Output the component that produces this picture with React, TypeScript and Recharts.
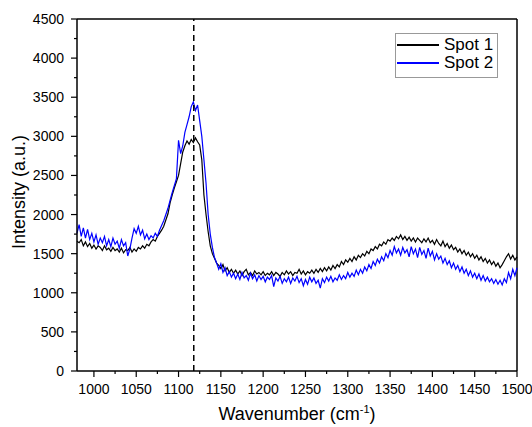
import React from 'react';
import { LineChart, Line, XAxis, YAxis, ReferenceLine } from 'recharts';

const wavenumbers = [
  980, 982.5, 985, 987.5, 990, 992.5, 995, 997.5, 1000, 1002.5, 1005, 1007.5,
  1010, 1012.5, 1015, 1017.5, 1020, 1022.5, 1025, 1027.5, 1030, 1032.5, 1035, 1037.5,
  1040, 1042.5, 1045, 1047.5, 1050, 1052.5, 1055, 1057.5, 1060, 1062.5, 1065, 1067.5,
  1070, 1072.5, 1075, 1077.5, 1080, 1082.5, 1085, 1087.5, 1090, 1092.5, 1095, 1097.5,
  1100, 1102.5, 1105, 1107.5, 1110, 1112.5, 1115, 1117.5, 1120, 1122.5, 1125, 1127.5,
  1130, 1132.5, 1135, 1137.5, 1140, 1142.5, 1145, 1147.5, 1150, 1152.5, 1155, 1157.5,
  1160, 1162.5, 1165, 1167.5, 1170, 1172.5, 1175, 1177.5, 1180, 1182.5, 1185, 1187.5,
  1190, 1192.5, 1195, 1197.5, 1200, 1202.5, 1205, 1207.5, 1210, 1212.5, 1215, 1217.5,
  1220, 1222.5, 1225, 1227.5, 1230, 1232.5, 1235, 1237.5, 1240, 1242.5, 1245, 1247.5,
  1250, 1252.5, 1255, 1257.5, 1260, 1262.5, 1265, 1267.5, 1270, 1272.5, 1275, 1277.5,
  1280, 1282.5, 1285, 1287.5, 1290, 1292.5, 1295, 1297.5, 1300, 1302.5, 1305, 1307.5,
  1310, 1312.5, 1315, 1317.5, 1320, 1322.5, 1325, 1327.5, 1330, 1332.5, 1335, 1337.5,
  1340, 1342.5, 1345, 1347.5, 1350, 1352.5, 1355, 1357.5, 1360, 1362.5, 1365, 1367.5,
  1370, 1372.5, 1375, 1377.5, 1380, 1382.5, 1385, 1387.5, 1390, 1392.5, 1395, 1397.5,
  1400, 1402.5, 1405, 1407.5, 1410, 1412.5, 1415, 1417.5, 1420, 1422.5, 1425, 1427.5,
  1430, 1432.5, 1435, 1437.5, 1440, 1442.5, 1445, 1447.5, 1450, 1452.5, 1455, 1457.5,
  1460, 1462.5, 1465, 1467.5, 1470, 1472.5, 1475, 1477.5, 1480, 1482.5, 1485, 1487.5,
  1490, 1492.5, 1495, 1497.5, 1500,
];

// Spot 1 (black)
const spot1 = [
  1660, 1640, 1680, 1600, 1650, 1590, 1630, 1570, 1610, 1560, 1600, 1580,
  1540, 1600, 1550, 1570, 1530, 1580, 1540, 1560, 1520, 1570, 1510, 1550,
  1540, 1580, 1520, 1560, 1530, 1580, 1560, 1600, 1570, 1620, 1600, 1650,
  1680, 1660, 1720, 1760, 1800, 1850, 1930, 2010, 2150, 2250, 2340, 2420,
  2500, 2650, 2800, 2880, 2940, 2900, 2960, 2920, 2980, 2930, 2890, 2700,
  2250, 2000, 1780, 1600, 1500, 1440, 1380, 1350, 1310, 1360, 1280, 1320,
  1260, 1300, 1250, 1290, 1240, 1280, 1220, 1270, 1300, 1230, 1260, 1220,
  1280, 1240, 1260, 1230, 1270, 1220, 1250, 1230, 1270, 1220, 1260, 1240,
  1210, 1260, 1230, 1280, 1240, 1270, 1220, 1260, 1250, 1300, 1240, 1280,
  1230, 1270, 1250, 1290, 1250, 1300, 1260, 1310, 1270, 1320, 1280, 1330,
  1290, 1350, 1310, 1360, 1330, 1400, 1360, 1420, 1390, 1440, 1400, 1460,
  1420, 1480, 1450, 1500, 1470, 1530, 1500, 1560, 1540, 1590, 1560, 1620,
  1600, 1650, 1620, 1680, 1660, 1700, 1670, 1720, 1690, 1740, 1680, 1720,
  1670, 1710, 1660, 1700, 1650, 1700, 1670, 1640, 1690, 1650, 1700, 1640,
  1670, 1620, 1680, 1630, 1600, 1660, 1590, 1630, 1570, 1610, 1550, 1580,
  1520, 1560, 1500, 1540, 1480, 1520, 1460, 1500, 1440, 1480, 1420, 1460,
  1400, 1440, 1380, 1420, 1360, 1400, 1340, 1380, 1320, 1360, 1410, 1460,
  1500, 1430, 1480, 1420, 1460,
];

// Spot 2 (blue)
const spot2 = [
  1760, 1870, 1720, 1830, 1700, 1810, 1680, 1760, 1650, 1740, 1620, 1700,
  1640, 1720, 1600, 1680, 1590, 1700, 1620, 1660, 1570, 1680, 1600, 1640,
  1470, 1560, 1700, 1820, 1760, 1850, 1740, 1800, 1690, 1750, 1680, 1730,
  1700, 1760, 1720, 1800, 1860, 1920, 2000, 2080, 2180, 2280, 2370, 2460,
  2950, 2780, 2880, 3050, 3150, 3250, 3380, 3440, 3330, 3400, 3200, 3000,
  2700, 2400, 2000, 1750, 1580, 1450, 1380, 1300, 1370, 1260, 1320, 1220,
  1270, 1200, 1250, 1180, 1240, 1170, 1260, 1190, 1220, 1160, 1250, 1180,
  1230, 1150, 1220, 1170, 1210, 1140, 1200, 1170, 1220, 1080, 1190, 1150,
  1210, 1120, 1180, 1140, 1200, 1120, 1190, 1150, 1210, 1130, 1180, 1090,
  1170, 1110, 1200, 1140, 1190, 1120, 1160, 1060, 1180, 1130, 1200, 1150,
  1210, 1140, 1190, 1160, 1230, 1170, 1220, 1180, 1260, 1200, 1250, 1210,
  1290, 1230, 1300, 1250, 1330, 1280, 1360, 1310, 1400, 1350, 1430, 1380,
  1460, 1410, 1500, 1450, 1540, 1480, 1590, 1510, 1560, 1480, 1580, 1510,
  1550, 1460, 1590, 1500, 1560, 1450, 1580, 1490, 1540, 1440, 1570, 1470,
  1530, 1420, 1500, 1430, 1470, 1380, 1440, 1360, 1410, 1320, 1380, 1300,
  1350, 1270, 1330, 1250, 1300, 1220, 1280, 1200, 1250, 1180, 1240, 1160,
  1220, 1150, 1200, 1140, 1180, 1120, 1170, 1110, 1160, 1100, 1180, 1130,
  1260, 1180, 1300, 1220, 1320,
];

const peakPosition = 1118;

const xMajor = [1000, 1050, 1100, 1150, 1200, 1250, 1300, 1350, 1400, 1450, 1500];
const xTicks = [1000, 1025, 1050, 1075, 1100, 1125, 1150, 1175, 1200, 1225, 1250, 1275, 1300, 1325, 1350, 1375, 1400, 1425, 1450, 1475, 1500];
const yMajor = [0, 500, 1000, 1500, 2000, 2500, 3000, 3500, 4000, 4500];
const yTicks = [0, 250, 500, 750, 1000, 1250, 1500, 1750, 2000, 2250, 2500, 2750, 3000, 3250, 3500, 3750, 4000, 4250, 4500];

const data = wavenumbers.map((w, i) => ({ w, s1: spot1[i], s2: spot2[i] }));

const FONT = '"Liberation Sans", Arial, sans-serif';

function XTick(props: any) {
  const { x, y, payload } = props;
  const major = xMajor.includes(payload.value);
  return (
    <g>
      <line x1={x} y1={y} x2={x} y2={y + (major ? 6 : 3)} stroke="#000" strokeWidth={1.2} />
      {major && (
        <text x={x} y={y + 23} textAnchor="middle" fontSize={14} fontFamily={FONT} fill="#000">
          {payload.value}
        </text>
      )}
    </g>
  );
}

function YTick(props: any) {
  const { x, y, payload } = props;
  const major = yMajor.includes(payload.value);
  return (
    <g>
      <line x1={x} y1={y} x2={x - (major ? 6 : 3)} y2={y} stroke="#000" strokeWidth={1.2} />
      {major && (
        <text x={x - 13} y={y + 5} textAnchor="end" fontSize={14} fontFamily={FONT} fill="#000">
          {payload.value}
        </text>
      )}
    </g>
  );
}

const legendItems = [
  { name: 'Spot 1', color: '#000000', y: 11 },
  { name: 'Spot 2', color: '#0000ff', y: 29 },
];

export default function App() {
  return (
    <div style={{ position: 'absolute', left: 0, top: 0, width: 532, height: 427, background: '#fff', fontFamily: FONT }}>
      <LineChart width={532} height={427} data={data} margin={{ top: 19, right: 15, bottom: 0, left: 0 }}>
        <XAxis
          dataKey="w"
          type="number"
          domain={[980, 1500]}
          ticks={xTicks}
          interval={0}
          height={56}
          tick={<XTick />}
          tickLine={false}
          tickSize={0}
          tickMargin={0}
          axisLine={{ stroke: '#000', strokeWidth: 1.5 }}
        />
        <YAxis
          type="number"
          domain={[0, 4500]}
          ticks={yTicks}
          interval={0}
          width={77}
          tick={<YTick />}
          tickLine={false}
          tickSize={0}
          tickMargin={0}
          axisLine={{ stroke: '#000', strokeWidth: 1.5 }}
        />
        <ReferenceLine y={4500} stroke="#000" strokeWidth={1.5} />
        <ReferenceLine x={1500} stroke="#000" strokeWidth={1.5} />
        <Line dataKey="s1" stroke="#000000" strokeWidth={1.2} dot={false} isAnimationActive={false} />
        <Line dataKey="s2" stroke="#0000ff" strokeWidth={1.2} dot={false} isAnimationActive={false} />
        <ReferenceLine
          x={peakPosition}
          stroke="#000"
          strokeWidth={1.5}
          strokeDasharray="6 4"
          segment={[{ x: peakPosition, y: 4450 }, { x: peakPosition, y: 0 }]}
        />
      </LineChart>
      <div
        style={{
          position: 'absolute',
          left: 19,
          top: 192,
          transform: 'translate(-50%, -50%) rotate(-90deg)',
          fontSize: 18,
          whiteSpace: 'nowrap',
        }}
      >
        Intensity (a.u.)
      </div>
      <div
        style={{
          position: 'absolute',
          left: 297,
          top: 404,
          transform: 'translateX(-50%)',
          fontSize: 18,
          whiteSpace: 'nowrap',
          lineHeight: '20px',
        }}
      >
        Wavenumber (cm<sup style={{ fontSize: 11, verticalAlign: 'top', lineHeight: '10px' }}>-1</sup>)
      </div>
      <div
        style={{
          position: 'absolute',
          left: 395,
          top: 33,
          width: 103,
          height: 45,
          border: '1px solid #999',
          boxSizing: 'border-box',
          background: '#fff',
          fontSize: 17,
        }}
      >
        {legendItems.map((item) => (
          <div key={item.name} style={{ position: 'absolute', left: 1, top: item.y - 10, height: 20, display: 'flex', alignItems: 'center' }}>
            <div style={{ width: 42, height: 1.5, background: item.color }} />
            <span style={{ marginLeft: 5, lineHeight: '20px' }}>{item.name}</span>
          </div>
        ))}
      </div>
    </div>
  );
}
